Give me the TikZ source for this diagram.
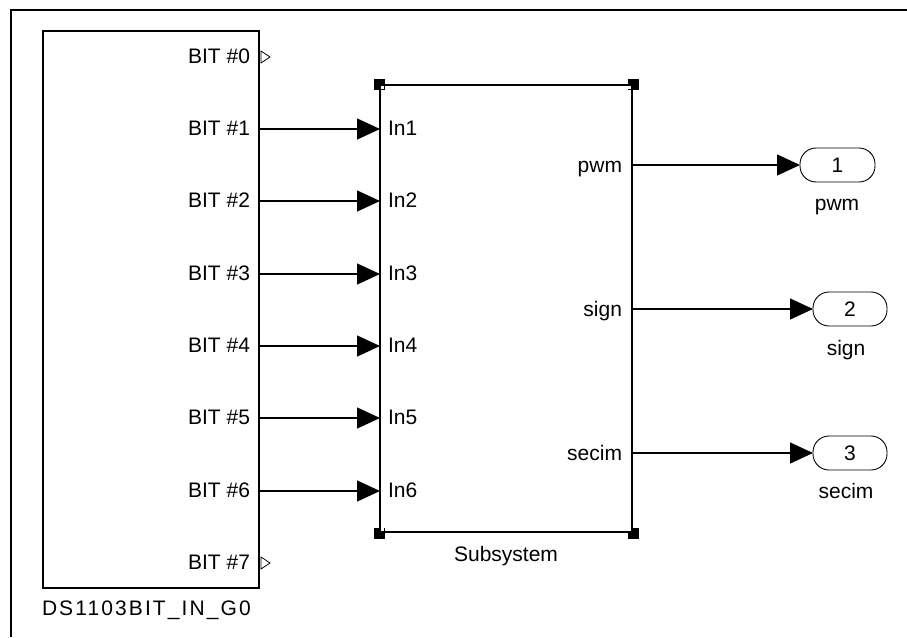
\documentclass[tikz,border=0pt]{standalone}
\usepackage{fontspec}
\setmainfont{Liberation Sans}
\usetikzlibrary{arrows.meta}

\begin{document}
\begin{tikzpicture}[x=1pt, y=-1pt, line width=1.3pt,
    every node/.style={font=\fontsize{21}{25}\selectfont, inner sep=0pt, outer sep=0pt},
    signal/.style={-{Triangle[length=23pt, width=21pt]}},
    open port/.style={line width=0.8pt},
    handle/.style={fill=black, minimum size=11pt},
    port/.style={draw, line width=0.9pt, rounded corners=16pt, minimum width=75pt, minimum height=34pt}]
    \useasboundingbox (0,0) rectangle (907,637);
    \draw[line width=2pt] (907,10) -- (11,10) -- (11,637);

    \node[draw, minimum width=216pt, minimum height=557pt, anchor=north west] (bit block) at (43,31) {};
    \node[anchor=base west] (bit block label) at (42,615) {\addfontfeatures{LetterSpace=10}DS1103BIT\_IN\_G0};
    \node[draw, minimum width=252pt, minimum height=447pt, anchor=north west] (subsystem) at (380,85) {};
    \node[anchor=base] (subsystem label) at (506,561) {Subsystem};

    \node[handle] at ([shift={(-1,-1)}]subsystem.north west) {};
    \node[handle] at ([shift={(1,-1)}]subsystem.north east) {};
    \node[handle] at ([shift={(-1,1)}]subsystem.south west) {};
    \node[handle] at ([shift={(1,1)}]subsystem.south east) {};
    \fill[white] ([shift={(1,1)}]subsystem.north west) rectangle +(3,3);
    \fill[white] ([shift={(-1,1)}]subsystem.north east) rectangle +(-3,3);
    \fill[white] ([shift={(1,-1)}]subsystem.south west) rectangle +(3,-3);
    \fill[white] ([shift={(-1,-1)}]subsystem.south east) rectangle +(-3,-3);

    \coordinate (row 0) at (259,57);
    \coordinate (row 1) at (259,129);
    \coordinate (row 2) at (259,201);
    \coordinate (row 3) at (259,274);
    \coordinate (row 4) at (259,346);
    \coordinate (row 5) at (259,418);
    \coordinate (row 6) at (259,491);
    \coordinate (row 7) at (259,563);

    \node[anchor=base east] (bit 0) at (250,63) {BIT \#0};
    \node[anchor=base east] (bit 1) at (250,135) {BIT \#1};
    \node[anchor=base east] (bit 2) at (250,207) {BIT \#2};
    \node[anchor=base east] (bit 3) at (250,280) {BIT \#3};
    \node[anchor=base east] (bit 4) at (250,352) {BIT \#4};
    \node[anchor=base east] (bit 5) at (250,424) {BIT \#5};
    \node[anchor=base east] (bit 6) at (250,497) {BIT \#6};
    \node[anchor=base east] (bit 7) at (250,569) {BIT \#7};

    \node[anchor=base west] (in 1) at (388,135) {In1};
    \node[anchor=base west] (in 2) at (388,207) {In2};
    \node[anchor=base west] (in 3) at (388,280) {In3};
    \node[anchor=base west] (in 4) at (388,352) {In4};
    \node[anchor=base west] (in 5) at (388,424) {In5};
    \node[anchor=base west] (in 6) at (388,497) {In6};

    \draw[open port] (row 0) ++(2,-6) -- ++(9,6) -- ++(-9,6) -- cycle;
    \draw[open port] (row 7) ++(2,-6) -- ++(9,6) -- ++(-9,6) -- cycle;
    \draw[signal] (row 1) -- (subsystem.west |- row 1);
    \draw[signal] (row 2) -- (subsystem.west |- row 2);
    \draw[signal] (row 3) -- (subsystem.west |- row 3);
    \draw[signal] (row 4) -- (subsystem.west |- row 4);
    \draw[signal] (row 5) -- (subsystem.west |- row 5);
    \draw[signal] (row 6) -- (subsystem.west |- row 6);

    \node[port] (port 1) at (837.5,165) {1};
    \node[port, minimum width=74pt] (port 2) at (850,309) {2};
    \node[port, minimum width=74pt] (port 3) at (850,453) {3};
    \node[anchor=base] (port 1 label) at (837,210) {pwm};
    \node[anchor=base] (port 2 label) at (846,355) {sign};
    \node[anchor=base] (port 3 label) at (846,498) {secim};

    \node[anchor=base east] (pwm) at (622,172) {pwm};
    \node[anchor=base east] (sign) at (622,316) {sign};
    \node[anchor=base east] (secim) at (622,460) {secim};
    \draw[signal] (subsystem.east |- port 1) -- (port 1.west);
    \draw[signal] (subsystem.east |- port 2) -- (port 2.west);
    \draw[signal] (subsystem.east |- port 3) -- (port 3.west);
\end{tikzpicture}
\end{document}
